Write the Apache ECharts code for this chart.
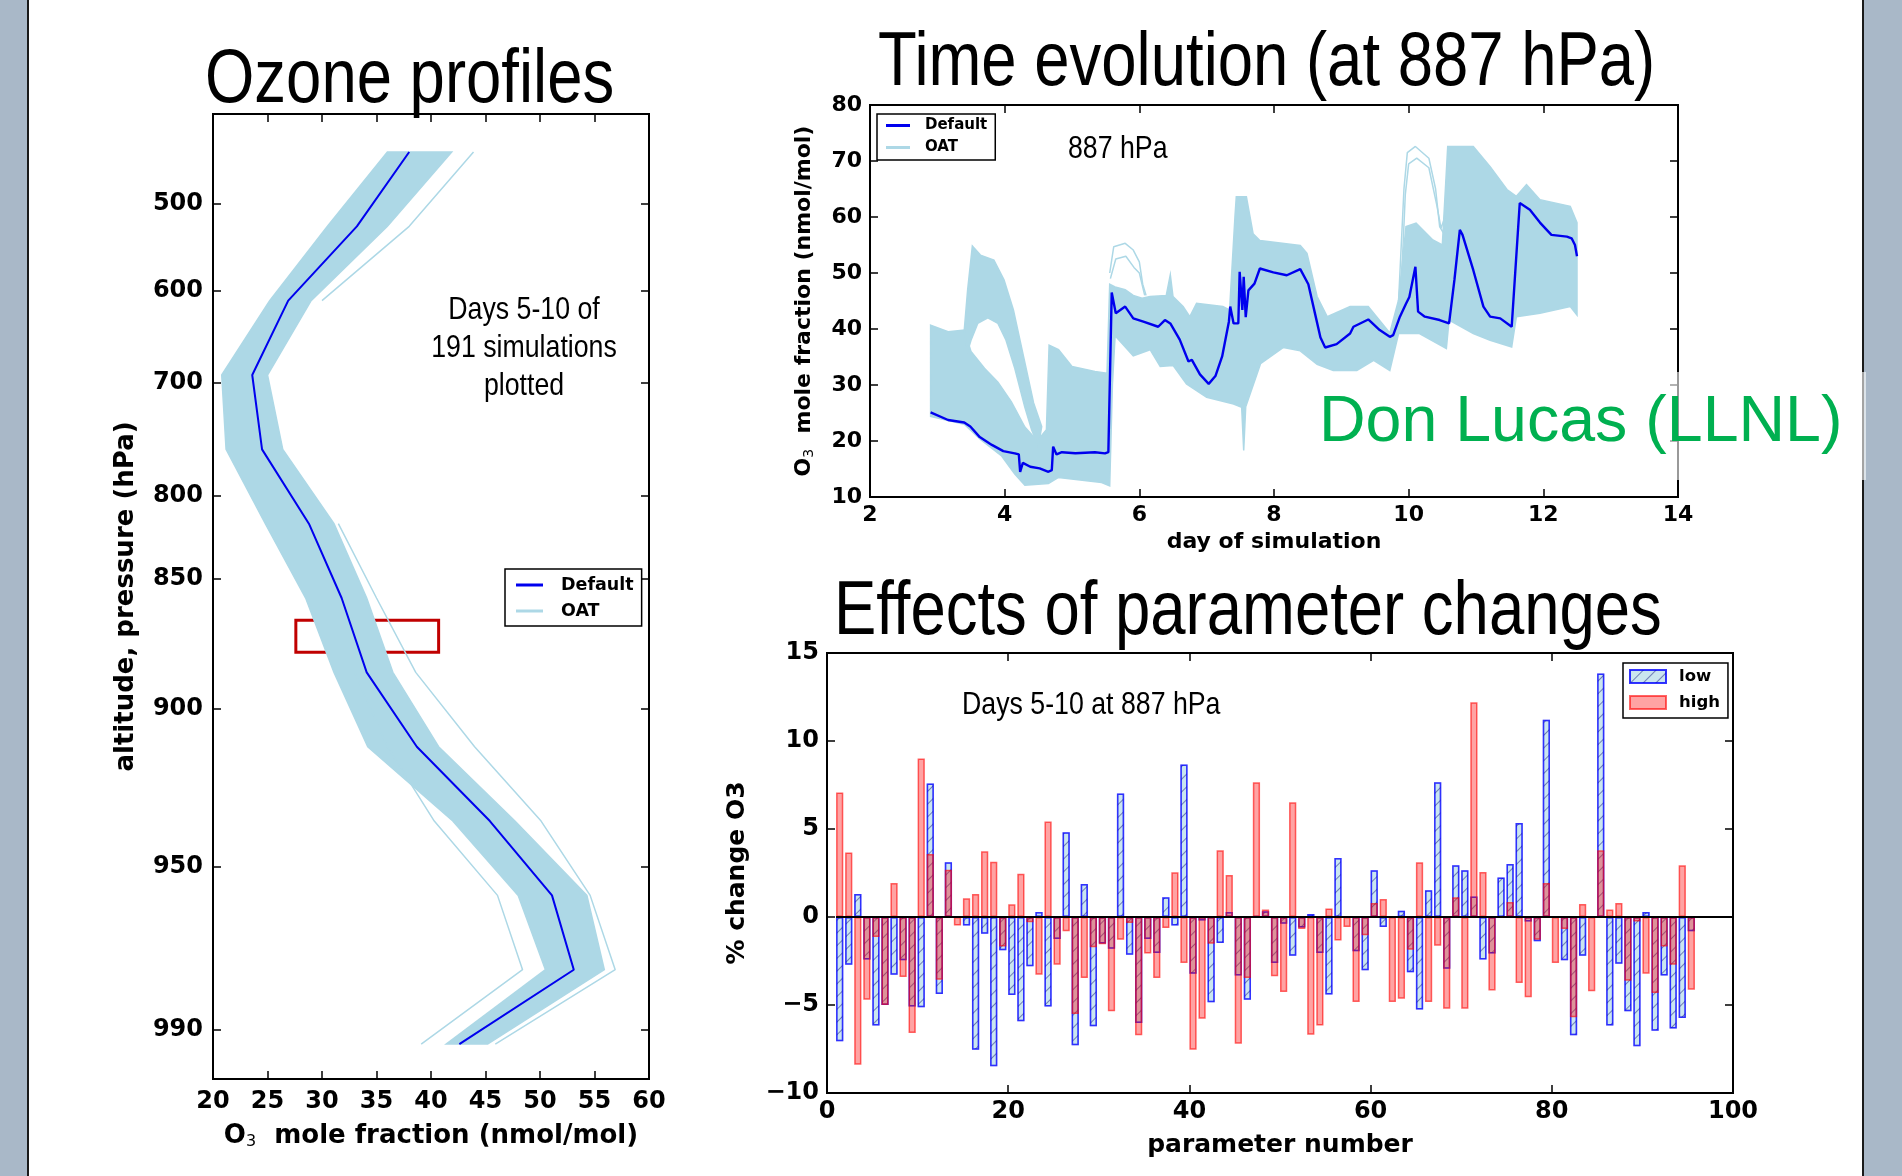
<!DOCTYPE html>
<html>
<head>
<meta charset="utf-8">
<title>Ozone profiles, time evolution and parameter effects</title>
<script src="https://cdn.jsdelivr.net/npm/echarts@6/dist/echarts.min.js"></script>
<style>
  html, body { margin: 0; padding: 0; background: #fff; }
  #main { width: 1902px; height: 1176px; }
</style>
</head>
<body>
<div id="main"></div>
<script>
// ---------- left panel: ozone profiles (y = model level, labelled in hPa) ----------
var profileLevels = [0, 1, 2, 3, 4, 5, 6, 7, 8, 9, 10, 11, 12];
var defaultProfile = [38.0, 33.2, 26.9, 23.6, 24.5, 28.8, 31.8, 34.1, 38.7, 45.4, 51.1, 53.1, 42.6];
var oatProfileMin = [36.0, 30.5, 25.2, 20.8, 21.2, 24.8, 28.5, 31.1, 34.2, 42.0, 48.0, 50.5, 41.4];
var oatProfileMax = [41.9, 36.0, 29.0, 25.0, 26.4, 31.1, 34.1, 36.5, 40.7, 47.7, 54.3, 55.9, 45.2];
var oatOutlierALevels = [0, 1, 2];
var oatOutlierA = [43.9, 38.0, 30.0];
var oatOutlierBLevels = [5, 6, 7, 8, 9, 10, 11, 12];
var oatOutlierB = [31.5, 35.0, 38.6, 44.0, 50.1, 54.6, 56.9, 45.9];
var oatOutlierCLevels = [7, 8, 9, 10, 11, 12];
var oatOutlierC = [33.0, 36.0, 40.3, 46.1, 48.4, 39.1];
var pressureLabels = [500, 600, 700, 800, 850, 900, 950, 990];
var pressureLevels = [0.69, 1.87, 3.10, 4.62, 5.74, 7.49, 9.62, 11.81];
var highlightBoxX = [27.6, 40.7];
var highlightBoxLevel = [6.30, 6.73];

// ---------- top right: time evolution at 887 hPa ----------
var defaultDays = [2.90, 3.16, 3.40, 3.49, 3.63, 3.81, 3.98, 4.15, 4.21, 4.23, 4.27, 4.38, 4.52, 4.65, 4.70,
  4.72, 4.77, 4.85, 5.05, 5.34, 5.49, 5.54, 5.59, 5.65, 5.79, 5.91, 6.06, 6.28, 6.38, 6.46, 6.60, 6.73, 6.78,
  6.90, 7.03, 7.13, 7.23, 7.33, 7.35, 7.40, 7.47, 7.49, 7.53, 7.55, 7.58, 7.62, 7.71, 7.79, 7.99, 8.19, 8.39,
  8.51, 8.61, 8.69, 8.76, 8.93, 9.13, 9.18, 9.40, 9.57, 9.72, 9.77, 9.87, 9.96, 10.01, 10.10, 10.14, 10.24,
  10.46, 10.60, 10.68, 10.76, 10.80, 10.96, 11.11, 11.21, 11.36, 11.53, 11.65, 11.80, 11.95, 12.12, 12.35,
  12.42, 12.47, 12.50];
var defaultO3 = [25.1, 23.75, 23.3, 22.6, 20.7, 19.3, 18.2, 17.8, 17.6, 14.5, 16.1, 15.4, 15.1, 14.5, 14.8,
  19.0, 17.6, 18.0, 17.8, 18.0, 17.8, 18.0, 46.5, 42.8, 44.0, 41.9, 41.3, 40.4, 41.6, 41.0, 38.1, 34.2, 34.5,
  31.9, 30.2, 31.6, 35.1, 41.3, 44.0, 41.0, 41.0, 50.2, 43.4, 49.3, 42.1, 46.9, 48.1, 50.8, 50.1, 49.6, 50.7,
  48.0, 42.7, 38.5, 36.7, 37.3, 39.2, 40.4, 41.7, 39.8, 38.6, 38.9, 42.2, 44.5, 45.7, 51.1, 43.1, 42.2,
  41.6, 41.0, 48.8, 57.7, 56.8, 50.5, 44.0, 42.2, 41.9, 40.4, 62.5, 61.3, 59.0, 56.8, 56.5,
  56.2, 55.0, 53.0];
// main OAT envelope (upper edge / lower edge)
var oatUpperDays = [2.90, 3.16, 3.40, 3.50, 3.70, 3.90, 4.10, 4.30, 4.45, 4.55, 4.62, 4.66, 4.80,
  5.00, 5.34, 5.52, 5.56, 5.64, 5.79, 5.91, 6.04, 6.16, 6.40, 6.46, 6.50, 6.65, 6.75, 6.85, 7.24, 7.34,
  7.42, 7.44, 7.59, 7.69, 7.79, 8.39, 8.49, 8.64, 8.79, 9.13, 9.40, 9.72, 9.85, 9.96, 10.11, 10.36, 10.50,
  10.58, 10.96, 11.21, 11.46, 11.60, 11.75, 11.95, 12.40, 12.50];
var oatUpper = [40.7, 39.5, 39.8, 36.0, 33.0, 30.5, 27.0, 22.5, 20.5, 21.0, 22.0, 37.1, 36.3,
  33.3, 32.4, 32.1, 48.0, 47.5, 47.0, 46.0, 45.5, 45.8, 46.0, 49.7, 45.8, 44.0, 42.2, 44.6, 44.0, 43.4,
  60.0, 63.6, 63.6, 57.0, 55.8, 54.9, 53.5, 45.8, 42.2, 44.0, 44.0, 39.3, 45.2, 58.3, 58.9, 55.9, 55.0,
  72.6, 72.6, 69.0, 64.9, 63.7, 65.8, 63.1, 61.9, 59.0];
var oatLowerDays = [2.90, 3.40, 3.64, 3.95, 4.15, 4.30, 4.65, 4.80, 5.44, 5.56, 5.60, 5.64, 5.91, 6.16, 6.31,
  6.50, 6.70, 7.00, 7.40, 7.52, 7.55, 7.58, 7.80, 8.14, 8.39, 8.64, 8.88, 9.23, 9.48, 9.72, 9.85, 10.16,
  10.56, 10.60, 10.96, 11.21, 11.53, 11.60, 11.95, 12.40, 12.50];
var oatLower = [24.4, 23.0, 20.3, 17.4, 14.1, 12.1, 12.4, 13.5, 12.6, 12.0, 30.0, 38.8, 35.2, 36.3, 33.3,
  33.5, 30.2, 27.8, 26.6, 26.0, 18.3, 26.1, 33.8, 36.7, 36.1, 33.7, 32.6, 32.6, 34.4, 32.6, 39.2, 39.2,
  36.5, 41.6, 39.2, 38.0, 36.8, 42.2, 42.8, 44.0, 42.5];
// bundle of runs that peak near day 3.6 and fall back by day 4.5
var oatPeakUpperDays = [3.40, 3.45, 3.52, 3.64, 3.84, 3.99, 4.13, 4.28, 4.43, 4.55];
var oatPeakUpper = [39.8, 47.0, 54.8, 53.2, 52.3, 48.8, 43.4, 35.1, 26.8, 22.6];
var oatPeakLowerDays = [3.45, 3.50, 3.60, 3.75, 3.90, 4.02, 4.15, 4.30, 4.40, 4.50];
var oatPeakLower = [36.0, 38.0, 41.0, 42.0, 41.0, 38.0, 33.0, 26.0, 22.0, 19.0];
// isolated high runs
var oatRunADays = [9.85, 9.93, 9.98, 10.10, 10.30, 10.40, 10.46, 10.52, 10.56, 10.60];
var oatRunA = [45.0, 65.0, 71.5, 72.6, 70.5, 65.0, 58.3, 57.1, 66.0, 72.6];
var oatRunBDays = [9.88, 9.95, 10.00, 10.12, 10.30, 10.42, 10.48, 10.54, 10.60];
var oatRunB = [45.0, 64.0, 69.5, 70.5, 68.8, 62.0, 58.0, 60.0, 70.0];
var oatRunCDays = [5.56, 5.62, 5.79, 5.91, 6.00, 6.05, 6.10];
var oatRunC = [50.0, 54.7, 55.3, 54.1, 52.0, 48.0, 46.0];
var oatRunDDays = [5.57, 5.65, 5.80, 5.92, 6.00, 6.08];
var oatRunD = [49.0, 52.5, 53.0, 51.0, 50.0, 46.0];

// ---------- bottom right: % change in O3 per parameter ----------
var lowChange = [-7.06, -2.71, 1.31, -2.42, -6.16, -5.0, -3.28, -2.46, -5.08, -5.13,
  7.58, -4.38, 3.11, 0, -0.49, -7.54, -0.95, -8.48, -1.89, -4.43,
  -5.93, -2.80, 0.28, -5.08, -1.25, 4.81, -7.29, 1.88, -6.21, -1.50,
  -1.80, 7.01, -2.14, -6.02, -1.25, -2.05, 1.12, -0.49, 8.67, -3.22,
  -0.2, -4.85, -1.48, 0.28, -3.33, -4.70, 0.05, 0.32, -2.61, -0.38,
  -2.20, -0.60, 0.17, -2.05, -4.41, 3.35, 0, -1.95, -3.03, 2.65,
  -0.57, 0, 0.36, -3.14, -5.26, 1.52, 7.65, -2.94, 2.94, 2.65,
  1.17, -2.42, -2.08, 2.25, 3.01, 5.34, -0.25, -1.38, 11.21, 0,
  -2.46, -6.72, -2.20, 0, 13.83, -6.16, -2.65, -5.36, -7.35, 0.28,
  -6.46, -3.33, -6.34, -5.74, -0.81];
var highChange = [7.08, 3.67, -8.39, -4.70, -1.14, -5.0, 1.93, -3.41, -6.59, 9.0,
  3.58, -3.56, 2.69, -0.49, 1.06, 1.31, 3.73, 3.14, -1.67, 0.72,
  2.46, -0.30, -3.28, 5.42, -2.71, -0.81, -5.51, -3.47, -1.72, -1.55,
  -5.36, -1.29, -0.34, -6.72, -2.08, -3.47, -0.63, 2.54, -2.61, -7.54,
  -5.78, -1.52, 3.79, 2.39, -7.20, -3.47, 7.65, 0.42, -3.37, -4.26,
  6.52, -0.68, -6.69, -6.17, 0.49, -1.34, -0.57, -4.83, -1.04, 0.80,
  1.02, -4.83, -4.64, -1.86, 3.11, -4.83, -1.63, -5.21, 1.12, -5.21,
  12.2, 2.56, -4.17, 0.04, 0.85, -3.75, -4.56, -1.29, 1.93, -2.61,
  -0.68, -5.70, 0.74, -4.22, 3.79, 0.42, 0.80, -3.62, -0.25, -3.22,
  -4.32, -1.67, -2.71, 2.94, -4.13];
var paramNumbers = lowChange.map(function (v, i) { return i + 1; });
var zeroLineX = [1, 100];

// ---------- helpers ----------
var BOLD = 'DejaVu Sans';
var SANS = "'Liberation Sans', Arial, sans-serif";
var NARROW_SCALE = 0.835;   // Arial Narrow look from Liberation Sans
var LIGHTBLUE = '#ADD8E6';
var BLUE = '#0000EE';

function zip(xs, ys) { return xs.map(function (x, i) { return [x, ys[i]]; }); }

var GRIDS = [
  { left: 213, top: 114, width: 436, height: 965 },
  { left: 870, top: 105, width: 808, height: 392 },
  { left: 827, top: 653, width: 906, height: 440 }
];

function tickStyle() {
  return { show: true, inside: true, length: 8, lineStyle: { color: '#000', width: 1.5 } };
}
function labelStyle(fs, margin) {
  return { color: '#000', fontFamily: BOLD, fontWeight: 'bold', fontSize: fs, margin: margin };
}
function nameStyle(fs) {
  return {
    color: '#000', fontFamily: BOLD, fontWeight: 'bold', fontSize: fs,
    rich: {
      b: { fontFamily: BOLD, fontWeight: 'bold', fontSize: fs, color: '#000' },
      s: { fontFamily: BOLD, fontWeight: 'normal', fontSize: Math.round(fs * 0.62), color: '#000', padding: [Math.round(fs * 0.45), 0, 0, 0] }
    }
  };
}
var noLine = { show: false, onZero: false };
function mirror(axis) {
  var m = Object.assign({}, axis);
  m.axisLabel = { show: false };
  m.name = '';
  return m;
}

// left panel axes
var xLeft = {
  type: 'value', gridIndex: 0, position: 'bottom', min: 20, max: 60, interval: 5,
  axisLine: noLine, splitLine: { show: false }, axisTick: tickStyle(),
  axisLabel: labelStyle(24, 11),
  name: '{b|O}{s|3}{b|  mole fraction (nmol/mol)}', nameLocation: 'middle', nameGap: 43, nameTextStyle: nameStyle(26)
};
var yLeft = {
  type: 'value', gridIndex: 0, position: 'left', inverse: true, min: -0.511, max: 12.47,
  axisLine: noLine, splitLine: { show: false },
  axisTick: Object.assign(tickStyle(), { customValues: pressureLevels }),
  axisLabel: Object.assign(labelStyle(24, 10), {
    customValues: pressureLevels,
    formatter: function (v) {
      var best = 0;
      pressureLevels.forEach(function (p, i) { if (Math.abs(p - v) < Math.abs(pressureLevels[best] - v)) best = i; });
      return String(pressureLabels[best]);
    }
  }),
  name: 'altitude, pressure (hPa)', nameLocation: 'middle', nameGap: 74, nameTextStyle: nameStyle(26)
};
// top right axes
var xTop = {
  type: 'value', gridIndex: 1, position: 'bottom', min: 2, max: 14, interval: 2,
  axisLine: noLine, splitLine: { show: false }, axisTick: tickStyle(),
  axisLabel: labelStyle(22, 7),
  name: 'day of simulation', nameLocation: 'middle', nameGap: 34, nameTextStyle: nameStyle(22)
};
var yTop = {
  type: 'value', gridIndex: 1, position: 'left', min: 10, max: 80, interval: 10,
  axisLine: noLine, splitLine: { show: false }, axisTick: tickStyle(),
  axisLabel: labelStyle(22, 8),
  name: '{b|O}{s|3}{b|  mole fraction (nmol/mol)}', nameLocation: 'middle', nameGap: 54, nameTextStyle: nameStyle(22)
};
// bottom right axes
var xBot = {
  type: 'value', gridIndex: 2, position: 'bottom', min: 0, max: 100, interval: 20,
  axisLine: noLine, splitLine: { show: false }, axisTick: tickStyle(),
  axisLabel: labelStyle(24, 7),
  name: 'parameter number', nameLocation: 'middle', nameGap: 40, nameTextStyle: nameStyle(25)
};
var yBot = {
  type: 'value', gridIndex: 2, position: 'left', min: -10, max: 15, interval: 5,
  axisLine: noLine, splitLine: { show: false }, axisTick: tickStyle(),
  axisLabel: Object.assign(labelStyle(24, 8), {
    formatter: function (v) { return String(v).replace('-', '\u2212'); }
  }),
  name: '% change O3', nameLocation: 'middle', nameGap: 77, nameTextStyle: nameStyle(25)
};

var xLeftTop = mirror(xLeft); xLeftTop.position = 'top';
var yLeftRight = mirror(yLeft); yLeftRight.position = 'right';
var xTopTop = mirror(xTop); xTopTop.position = 'top';
var yTopRight = mirror(yTop); yTopRight.position = 'right';
var xBotTop = mirror(xBot); xBotTop.position = 'top';
var yBotRight = mirror(yBot); yBotRight.position = 'right';

function bandSeries(xIdx, yIdx, points) {
  return {
    type: 'custom', xAxisIndex: xIdx, yAxisIndex: yIdx, silent: true, z: 1,
    data: [points[0]],
    renderItem: function (params, api) {
      return {
        type: 'polygon',
        shape: { points: points.map(function (p) { return api.coord(p); }) },
        style: { fill: LIGHTBLUE, stroke: LIGHTBLUE, lineWidth: 1.5 }
      };
    }
  };
}
function lineSeries(name, xIdx, yIdx, data, color, width, z) {
  return {
    name: name, type: 'line', xAxisIndex: xIdx, yAxisIndex: yIdx, data: data,
    symbol: 'none', showSymbol: false, silent: true, z: z,
    lineStyle: { color: color, width: width }, itemStyle: { color: color }
  };
}

var profileBand = zip(oatProfileMin, profileLevels).concat(zip(oatProfileMax, profileLevels).reverse());
var timeBand = zip(oatUpperDays, oatUpper).concat(zip(oatLowerDays, oatLower).reverse());
var peakBand = zip(oatPeakUpperDays, oatPeakUpper).concat(zip(oatPeakLowerDays, oatPeakLower).reverse());

var BAR_UNITS = 0.8;
var barPx = GRIDS[2].width / 100 * BAR_UNITS;

var defaultProfileSeries = lineSeries('Default', 0, 0, zip(defaultProfile, profileLevels), BLUE, 2, 5);
defaultProfileSeries.markArea = {
  silent: true,
  label: { show: false },
  itemStyle: { color: 'rgba(0,0,0,0)', borderColor: '#C00000', borderWidth: 3 },
  data: [[{ coord: [highlightBoxX[0], highlightBoxLevel[0]] }, { coord: [highlightBoxX[1], highlightBoxLevel[1]] }]]
};

var series = [
  bandSeries(0, 0, profileBand),
  lineSeries('OAT', 0, 0, zip(oatOutlierA, oatOutlierALevels), LIGHTBLUE, 1.5, 2),
  lineSeries('OAT', 0, 0, zip(oatOutlierB, oatOutlierBLevels), LIGHTBLUE, 1.5, 2),
  lineSeries('OAT', 0, 0, zip(oatOutlierC, oatOutlierCLevels), LIGHTBLUE, 1.5, 2),
  defaultProfileSeries,

  bandSeries(2, 2, timeBand),
  bandSeries(2, 2, peakBand),
  lineSeries('OAT', 2, 2, zip(oatRunADays, oatRunA), LIGHTBLUE, 1.5, 2),
  lineSeries('OAT', 2, 2, zip(oatRunBDays, oatRunB), LIGHTBLUE, 1.5, 2),
  lineSeries('OAT', 2, 2, zip(oatRunCDays, oatRunC), LIGHTBLUE, 1.5, 2),
  lineSeries('OAT', 2, 2, zip(oatRunDDays, oatRunD), LIGHTBLUE, 1.5, 2),
  lineSeries('Default', 2, 2, zip(defaultDays, defaultO3), BLUE, 2.4, 5),

  {
    name: 'low', type: 'bar', xAxisIndex: 4, yAxisIndex: 4, barWidth: barPx, barGap: '-100%', z: 2,
    data: paramNumbers.map(function (p, i) { return [p + BAR_UNITS / 2, lowChange[i]]; }),
    itemStyle: {
      color: 'rgba(173,216,230,0.65)', borderColor: 'rgba(0,0,255,0.55)', borderWidth: 1.5,
      decal: { symbol: 'rect', symbolSize: 1, dashArrayX: [1, 0], dashArrayY: [1, 8], rotation: -Math.PI / 4, color: 'rgba(0,0,110,0.45)' }
    }
  },
  {
    name: 'high', type: 'bar', xAxisIndex: 4, yAxisIndex: 4, barWidth: barPx, barGap: '-100%', z: 3,
    data: paramNumbers.map(function (p, i) { return [p + BAR_UNITS / 2, highChange[i]]; }),
    itemStyle: { color: 'rgba(255,0,0,0.36)', borderColor: 'rgba(255,0,0,0.6)', borderWidth: 1.5 }
  },
  lineSeries('zero', 4, 4, zip(zeroLineX, [0, 0]), '#000', 2.2, 6)
];

function legendCfg(left, top, names, colors, fs, iw, ih, gap, padding, textPad) {
  return {
    left: left, top: top, orient: 'vertical', icon: 'rect', itemWidth: iw, itemHeight: ih, itemGap: gap,
    padding: padding, borderColor: '#000', borderWidth: 1.5, backgroundColor: '#fff', selectedMode: false,
    textStyle: { color: '#000', fontFamily: BOLD, fontWeight: 'bold', fontSize: fs, padding: [0, 0, 0, textPad] },
    data: names.map(function (n, i) { return colors[i] ? { name: n, itemStyle: { color: colors[i] } } : { name: n }; })
  };
}

function narrowText(str, x, y, size, align, lineHeight) {
  return {
    type: 'text', x: x, y: y, z: 50, scaleX: NARROW_SCALE, scaleY: 1,
    style: {
      text: str, fontSize: size, lineHeight: lineHeight || size, fontFamily: SANS, fill: '#000',
      textAlign: align, textVerticalAlign: 'middle', align: align, verticalAlign: 'middle'
    }
  };
}

var chart = echarts.init(document.getElementById('main'), null, { renderer: 'canvas' });
chart.setOption({
  animation: false,
  backgroundColor: '#fff',
  grid: GRIDS.map(function (g) {
    return Object.assign({ show: true, borderColor: '#000', borderWidth: 2, backgroundColor: 'rgba(0,0,0,0)', containLabel: false }, g);
  }),
  xAxis: [xLeft, xLeftTop, xTop, xTopTop, xBot, xBotTop],
  yAxis: [yLeft, yLeftRight, yTop, yTopRight, yBot, yBotRight],
  legend: [
    legendCfg(505, 569, ['Default', 'OAT'], [BLUE, LIGHTBLUE], 17.5, 27, 3, 8, [7, 8, 6, 11], 13),
    legendCfg(877, 114, ['Default', 'OAT'], [BLUE, LIGHTBLUE], 15, 24, 3, 7, [4, 8, 5, 9], 10),
    legendCfg(1623, 663, ['low', 'high'], [null, null], 16.5, 36, 13, 9, [5, 8, 7, 6], 8)
  ],
  series: series,
  graphic: [
    // slide frame strips
    { type: 'rect', x: 0, y: 0, shape: { width: 27, height: 1176 }, style: { fill: '#A9B8C8' }, z: 0 },
    { type: 'rect', x: 27, y: 0, shape: { width: 2, height: 1176 }, style: { fill: '#1a1a1a' }, z: 0 },
    { type: 'rect', x: 1864, y: 0, shape: { width: 38, height: 1176 }, style: { fill: '#A9B8C8' }, z: 0 },
    { type: 'rect', x: 1862, y: 0, shape: { width: 2, height: 1176 }, style: { fill: '#1a1a1a' }, z: 0 },
    // titles
    narrowText('Ozone profiles', 205, 81, 76, 'left'),
    narrowText('Time evolution (at 887 hPa)', 878, 64, 76, 'left'),
    narrowText('Effects of parameter changes', 834, 613, 76, 'left'),
    // in-plot notes
    narrowText('Days 5-10 of\n191 simulations\nplotted', 524, 348, 32, 'center', 38),
    narrowText('887 hPa', 1068, 149, 32, 'left'),
    narrowText('Days 5-10 at 887 hPa', 962, 705, 32, 'left'),
    // author credit over a translucent white box
    { type: 'rect', x: 1318, y: 372, z: 100, shape: { width: 548, height: 108 }, style: { fill: 'rgba(255,255,255,0.6)' } },
    { type: 'text', x: 1319, y: 423, z: 101, style: { text: 'Don Lucas (LLNL)', fontSize: 64.5, fontFamily: SANS, fill: '#00B050', textAlign: 'left', textVerticalAlign: 'middle', align: 'left', verticalAlign: 'middle' } }
  ]
});
</script>
</body>
</html>
